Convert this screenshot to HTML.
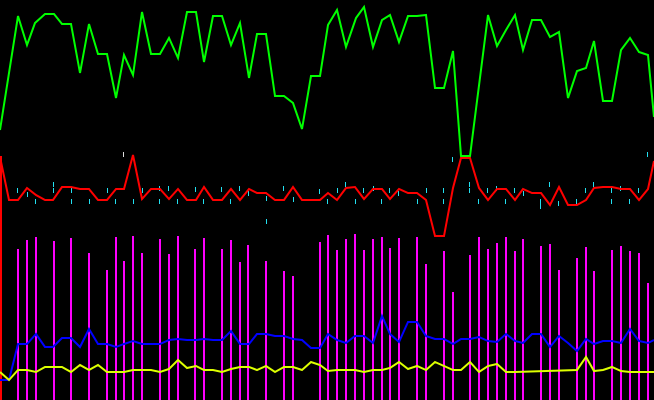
<!DOCTYPE html>
<html><head><meta charset="utf-8"><style>html,body{margin:0;padding:0;background:#000;}svg{display:block}</style></head>
<body>
<svg width="654" height="400" viewBox="0 0 654 400" xmlns="http://www.w3.org/2000/svg">
<rect width="654" height="400" fill="#000"/>
<g stroke="#ff00ff" stroke-width="2" shape-rendering="crispEdges">
<line x1="18" y1="249" x2="18" y2="400"/><line x1="27" y1="240" x2="27" y2="400"/><line x1="36" y1="237" x2="36" y2="400"/><line x1="54" y1="241" x2="54" y2="400"/><line x1="71" y1="238" x2="71" y2="400"/><line x1="89" y1="253" x2="89" y2="400"/><line x1="107" y1="270" x2="107" y2="400"/><line x1="116" y1="237" x2="116" y2="400"/><line x1="124" y1="261" x2="124" y2="400"/><line x1="133" y1="236" x2="133" y2="400"/><line x1="142" y1="253" x2="142" y2="400"/><line x1="160" y1="239" x2="160" y2="400"/><line x1="169" y1="254" x2="169" y2="400"/><line x1="178" y1="236" x2="178" y2="400"/><line x1="195" y1="249" x2="195" y2="400"/><line x1="204" y1="238" x2="204" y2="400"/><line x1="222" y1="249" x2="222" y2="400"/><line x1="231" y1="240" x2="231" y2="400"/><line x1="240" y1="262" x2="240" y2="400"/><line x1="248" y1="245" x2="248" y2="400"/><line x1="266" y1="261" x2="266" y2="400"/><line x1="284" y1="271" x2="284" y2="400"/><line x1="293" y1="276" x2="293" y2="400"/><line x1="320" y1="242" x2="320" y2="400"/><line x1="328" y1="235" x2="328" y2="400"/><line x1="337" y1="250" x2="337" y2="400"/><line x1="346" y1="239" x2="346" y2="400"/><line x1="355" y1="234" x2="355" y2="400"/><line x1="364" y1="250" x2="364" y2="400"/><line x1="373" y1="239" x2="373" y2="400"/><line x1="382" y1="237" x2="382" y2="400"/><line x1="390" y1="248" x2="390" y2="400"/><line x1="399" y1="238" x2="399" y2="400"/><line x1="417" y1="237" x2="417" y2="400"/><line x1="426" y1="264" x2="426" y2="400"/><line x1="444" y1="251" x2="444" y2="400"/><line x1="453" y1="292" x2="453" y2="400"/><line x1="470" y1="255" x2="470" y2="400"/><line x1="479" y1="237" x2="479" y2="400"/><line x1="488" y1="249" x2="488" y2="400"/><line x1="497" y1="243" x2="497" y2="400"/><line x1="506" y1="237" x2="506" y2="400"/><line x1="515" y1="251" x2="515" y2="400"/><line x1="523" y1="239" x2="523" y2="400"/><line x1="541" y1="246" x2="541" y2="400"/><line x1="550" y1="244" x2="550" y2="400"/><line x1="559" y1="270" x2="559" y2="400"/><line x1="577" y1="258" x2="577" y2="400"/><line x1="586" y1="247" x2="586" y2="400"/><line x1="594" y1="271" x2="594" y2="400"/><line x1="612" y1="250" x2="612" y2="400"/><line x1="621" y1="246" x2="621" y2="400"/><line x1="630" y1="251" x2="630" y2="400"/><line x1="639" y1="253" x2="639" y2="400"/><line x1="648" y1="283" x2="648" y2="400"/>
</g>
<g stroke="#22e0f0" stroke-width="1" shape-rendering="crispEdges" transform="translate(0.5,0)">
<path d="M17 188v5M27 192v5M35 199v5M53 182v5M53 188v5M71 188v5M71 199v5M89 199v5M107 188v5M115 199v5M133 199v5M142 188v5M159 186v5M159 199v5M168 186v5M177 199v5M195 187v5M203 199v5M221 187v5M230 199v5M239 186v5M248 191v5M266 196v5M266 219v5M283 186v5M293 197v5M319 189v5M327 199v5M337 188v5M345 182v5M355 199v5M363 188v5M373 186v5M381 199v5M389 188v5M398 191v5M417 199v5M426 188v5M443 188v5M443 199v5M452 157v5M469 182v5M469 188v5M478 199v5M487 188v5M496 186v5M505 199v5M514 188v5M523 191v5M540 199v5M540 204v5M549 182v5M558 201v5M576 199v5M585 188v5M593 182v5M611 188v5M611 199v5M620 186v5M629 199v5M638 188v5M647 152v5"/>
<path d="M123 152v5" stroke="#ddd"/>
</g>
<line x1="1" y1="156" x2="1" y2="400" stroke="#ff0000" stroke-width="2"/>
<g fill="none" stroke-width="2" stroke-linejoin="miter">
<polyline stroke="#00ff00" points="0,130 18,16 27,45 35,23 45,14 54,14 62,24 71,24 80,73 89,24 98,54 107,54 116,98 124,55 133,75 142,12 151,54 160,54 169,38 178,58 187,12 196,12 204,62 213,16 222,16 231,45 240,23 249,78 257,34 266,34 275,96 284,96 293,103 302,129 311,76 320,76 328,25 337,10 346,47 356,18 364,7 373,47 382,20 390,15 399,42 408,16 417,16 426,15 435,88 444,88 453,51 461,156 470,156 488,15 497,46 506,30 515,15 523,50 532,20 541,20 550,37 559,32 568,98 577,71 586,68 594,41 603,101 612,101 621,50 630,38 639,52 648,55 654,117"/>
<polyline stroke="#ff0000" points="0,157 9,200 18,200 27,188 36,195 45,200 53,200 62,187 71,187 80,189 89,189 98,200 107,200 116,189 124,189 133,155 142,199 151,189 160,189 169,199 178,189 187,200 196,200 204,187 213,200 222,200 231,189 240,200 249,189 257,193 266,193 275,200 284,200 293,187 302,200 311,200 320,200 328,193 337,200 346,188 355,187 364,199 373,189 382,189 390,199 399,189 408,193 417,193 426,200 435,236 444,236 453,188 461,158 470,158 479,188 488,200 497,189 506,189 515,200 523,189 532,193 541,193 550,205 559,187 568,205 577,205 586,200 594,188 603,187 612,187 621,189 630,189 639,200 648,189 654,161"/>
<polyline stroke="#0000ff" points="0,380 9,380 18,344 27,344 36,334 45,347 53,347 62,338 71,338 80,347 89,329 98,344 107,344 116,347 124,344 133,341 142,344 151,344 160,344 169,340 178,339 187,340 196,340 204,339 213,340 222,340 231,331 240,344 249,344 257,334 266,334 275,336 284,336 293,339 302,340 311,348 320,348 328,334 337,340 346,343 355,336 364,336 373,343 382,316 390,334 399,342 408,322 417,322 426,336 435,339 444,339 453,344 461,339 470,339 479,337 488,341 497,342 506,334 515,341 523,343 532,334 541,334 550,347 559,336 568,343 577,351 586,339 594,344 603,341 612,341 621,343 630,329 639,341 648,343 654,340"/>
<polyline stroke="#ddff00" points="0,372 9,380 18,370 27,370 36,372 45,367 53,367 62,367 71,372 80,365 89,370 98,365 107,372 116,372 124,372 133,370 142,370 151,370 160,372 169,369 178,360 187,368 196,366 204,370 213,370 222,372 231,369 240,367 249,367 257,370 266,366 275,372 284,367 293,367 302,370 311,362 320,365 328,371 337,370 346,370 355,370 364,372 373,370 382,370 390,368 399,362 408,369 417,366 426,370 435,362 444,366 453,370 461,370 470,362 479,372 488,366 497,364 506,372 515,372 577,370 586,357 594,371 603,370 612,367 621,371 630,372 654,372"/>
</g>
</svg>
</body></html>
